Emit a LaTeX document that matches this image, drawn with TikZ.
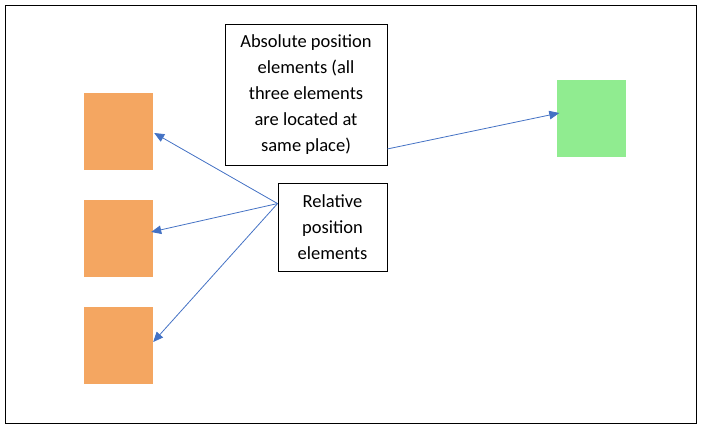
\documentclass[tikz,border=0pt]{standalone}
\usepackage{fontspec}
\setmainfont{Carlito}
\usetikzlibrary{arrows.meta, positioning, calc}

\definecolor{elemorange}{RGB}{244,166,97}
\definecolor{elemgreen}{RGB}{144,236,144}
\definecolor{arrowblue}{RGB}{68,114,196}

\begin{document}
\begin{tikzpicture}[
  x=1pt, y=-1pt,
  elem/.style={minimum width=69pt, minimum height=77pt, inner sep=0pt},
  note/.style={draw, line width=0.9pt, align=center, inner sep=0pt, font=\fontsize{18.5}{26}\selectfont},
  link/.style={draw=arrowblue, line width=0.8pt, -{Triangle[length=10pt, width=8.5pt]}}
]
\useasboundingbox (0,0) rectangle (704,431);
\draw[line width=1pt] (5,5) rectangle (696,423);

\node[elem, fill=elemorange] (o1) at (118.5,131.5) {};
\node[elem, fill=elemorange] (o2) at (118.5,238.5) {};
\node[elem, fill=elemorange] (o3) at (118.5,345.5) {};
\node[elem, fill=elemgreen]  (g)  at (591,118.5) {};

\node[note, minimum width=162pt, minimum height=141pt] (abs) at (306,95)
  {Absolute position\\elements (all\\three elements\\are located at\\same place)};
\node[note, minimum width=109pt, minimum height=88pt] (rel) at (332.5,227)
  {Relative\\position\\elements};

\coordinate (src) at ([yshift=-21pt]rel.north west);
\coordinate (abssrc) at ([yshift=17pt]abs.south east);

\draw[link] (src) -- ([shift={(1pt,-1.5pt)}]o1.east);
\draw[link] (src) -- ([shift={(-2pt,6.5pt)}]o2.east);
\draw[link] (src) -- ([shift={(0pt,3.5pt)}]o3.east);
\draw[link] (abssrc) -- ([shift={(3pt,5.5pt)}]g.west);
\end{tikzpicture}
\end{document}
